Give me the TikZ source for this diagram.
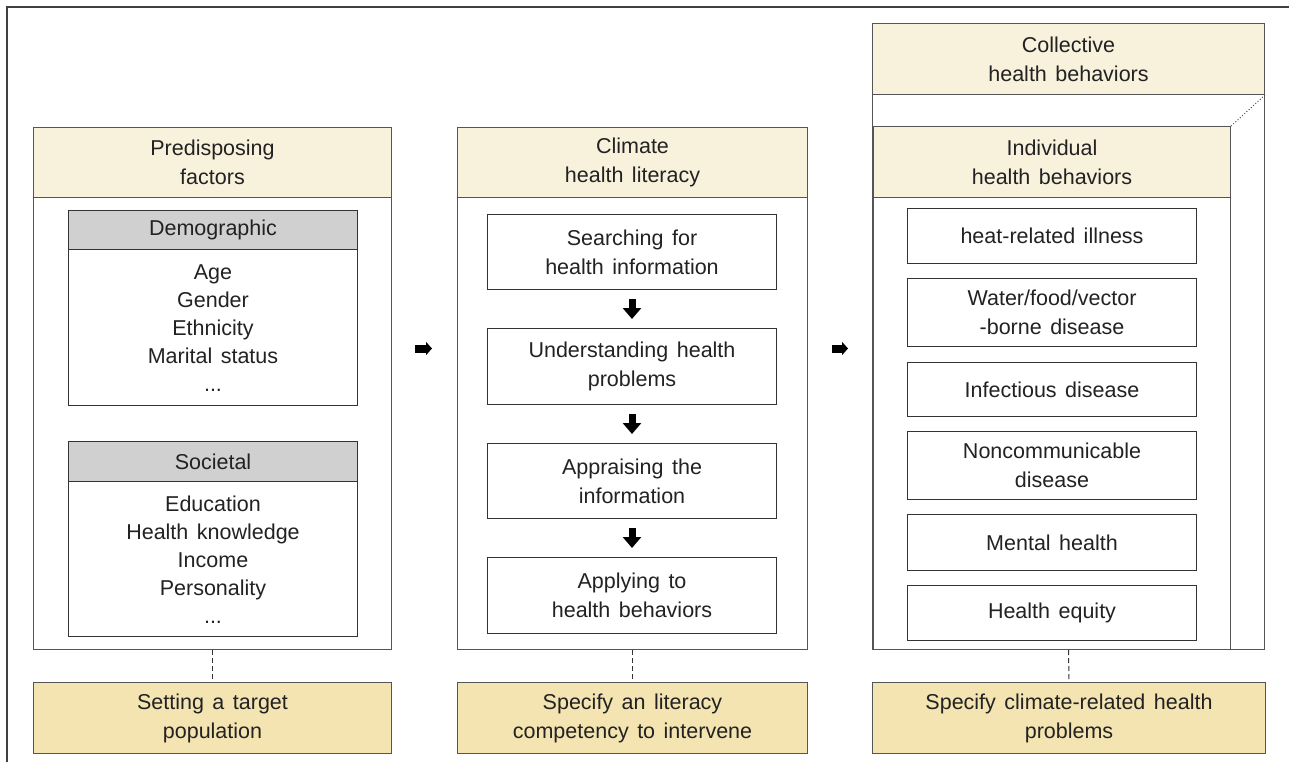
\documentclass[tikz,border=0pt]{standalone}
\usepackage{fontspec}
\setmainfont{Liberation Sans}
\usetikzlibrary{arrows.meta,calc,positioning}

\definecolor{headfill}{HTML}{F8F1DC}
\definecolor{targetfill}{HTML}{F4E4B1}
\definecolor{greyfill}{HTML}{D0D0D0}
\definecolor{linegrey}{HTML}{555555}
\definecolor{textgrey}{HTML}{222222}

\newcommand{\wordgap}{\spaceskip 8.5pt plus 1pt\relax}
\newcommand{\boxfont}{\fontsize{21.5}{29}\selectfont\wordgap}
\newcommand{\listfont}{\fontsize{21.5}{28}\selectfont\wordgap}

\tikzset{
  box/.style={draw=linegrey, line width=1pt, inner sep=0pt, anchor=north west,
    align=center, text=textgrey, font=\boxfont},
  panel/.style={box, fill=white},
  headbox/.style={box, fill=headfill},
  greyhead/.style={box, fill=greyfill, draw=black!80},
  itembox/.style={box, draw=black!80},
  targetbox/.style={box, fill=targetfill},
  listtext/.style={align=center, text=textgrey, font=\listfont},
  link/.style={draw=black!80, dash pattern=on 5pt off 3pt, line width=1pt},
  downarrow/.style={line width=7pt, -{Triangle[length=11pt,width=18pt]},
    shorten <=9pt, shorten >=9pt},
  sidearrow/.style={line width=8pt, -{Triangle[length=6pt,width=13pt]}},
}

\begin{document}
\begin{tikzpicture}[x=1pt,y=-1pt]
  \useasboundingbox (0,0) rectangle (1289,762);
  % frame
  \draw[draw=black!75, line width=2pt] (1289,7.5) -- (7,7.5) -- (7,762);

  % predisposing factors
  \node[panel, minimum width=358pt, minimum height=522pt] (p1) at (33,127) {};
  \node[headbox, minimum width=358pt, minimum height=70pt] (h1) at (33,127) {Predisposing\\factors};
  \node[itembox, minimum width=289pt, minimum height=195pt] (dm) at (68,210) {};
  \node[greyhead, minimum width=289pt, minimum height=39pt] (dmh) at (68,210) {Demographic};
  \node[listtext] (dml) at ($(dmh.south)!0.5!(dm.south)$)
    {Age\\Gender\\Ethnicity\\Marital status\\...};
  \node[itembox, minimum width=289pt, minimum height=195pt] (so) at (68,441) {};
  \node[greyhead, minimum width=289pt, minimum height=40pt] (soh) at (68,441) {Societal};
  \node[listtext] (sol) at ($(soh.south)!0.5!(so.south)$)
    {Education\\Health knowledge\\Income\\Personality\\...};

  % climate health literacy
  \node[panel, minimum width=350pt, minimum height=522pt] (p2) at (457,127) {};
  \node[headbox, minimum width=350pt, minimum height=70pt] (h2) at (457,127) {Climate\\health literacy};
  \node[itembox, minimum width=289pt, minimum height=75pt] (s1) at (487,214) {Searching for\\health information};
  \node[itembox, minimum width=289pt, minimum height=76pt] (s2) at (487,328) {Understanding health\\problems};
  \node[itembox, minimum width=289pt, minimum height=75pt] (s3) at (487,443) {Appraising the\\information};
  \node[itembox, minimum width=289pt, minimum height=76pt] (s4) at (487,557) {Applying to\\health behaviors};
  \draw[downarrow] (s1) -- (s2);
  \draw[downarrow] (s2) -- (s3);
  \draw[downarrow] (s3) -- (s4);

  % health behaviors
  \node[panel, minimum width=392pt, minimum height=626pt] (cb) at (872,23) {};
  \node[headbox, minimum width=392pt, minimum height=71pt] (ch) at (872,23) {Collective\\health behaviors};
  \node[panel, minimum width=357pt, minimum height=523pt] (p3) at (873,126) {};
  \node[headbox, minimum width=357pt, minimum height=71pt] (h3) at (873,126) {Individual\\health behaviors};
  \draw[draw=linegrey, dotted, line width=1pt] (h3.north east) -- (ch.south east);
  \node[itembox, minimum width=289pt, minimum height=55pt] (b1) at (907,208) {heat-related illness};
  \node[itembox, minimum width=289pt, minimum height=68pt] (b2) at (907,278) {Water/food/vector\\-borne disease};
  \node[itembox, minimum width=289pt, minimum height=54pt] (b3) at (907,362) {Infectious disease};
  \node[itembox, minimum width=289pt, minimum height=68pt] (b4) at (907,431) {Noncommunicable\\disease};
  \node[itembox, minimum width=289pt, minimum height=56pt] (b5) at (907,514) {Mental health};
  \node[itembox, minimum width=289pt, minimum height=55pt] (b6) at (907,585) {Health equity};

  % arrows between panels
  \draw[sidearrow, shorten <=23pt, shorten >=25pt] ([yshift=40pt]p1.east) -- ([yshift=40pt]p2.west);
  \draw[sidearrow, shorten <=24pt, shorten >=25pt] ([yshift=40pt]p2.east) -- ([yshift=40pt]p2.east -| p3.west);

  % targets
  \node[targetbox, minimum width=358pt, minimum height=71pt] (t1) at (33,682) {Setting a target\\population};
  \node[targetbox, minimum width=350pt, minimum height=71pt] (t2) at (457,682) {Specify an literacy\\competency to intervene};
  \node[targetbox, minimum width=393pt, minimum height=71pt] (t3) at (872,682) {Specify climate-related health\\problems};
  \draw[link] (p1.south) -- (t1.north);
  \draw[link] (p2.south) -- (t2.north);
  \draw[link] (cb.south) -- (t3.north);
\end{tikzpicture}
\end{document}
